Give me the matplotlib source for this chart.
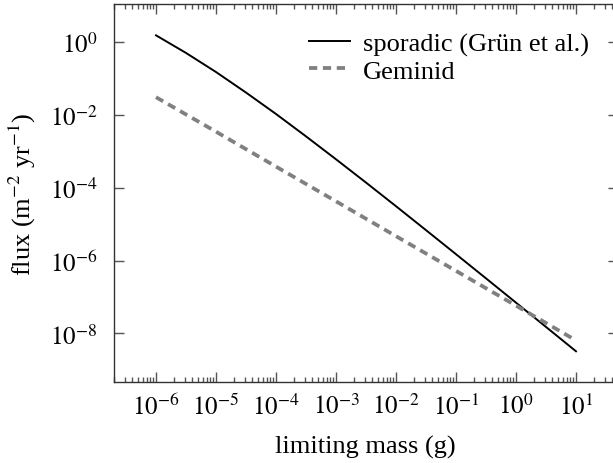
import matplotlib
matplotlib.use("Agg")
import matplotlib.pyplot as plt
import matplotlib.ticker as mticker
import numpy as np

# limiting mass (g)
mass = [1e-6, 10**-5.5, 1e-5, 10**-4.5, 1e-4, 10**-3.5, 1e-3, 10**-2.5,
        1e-2, 10**-1.5, 1e-1, 10**-0.5, 1e0, 10**0.5, 1e1]
# cumulative flux (m^-2 yr^-1)
sporadic = [1.49, 0.49, 0.147, 0.0402, 0.0104, 2.53e-3, 5.96e-4, 1.37e-4,
            3.08e-5, 6.8e-6, 1.49e-6, 3.24e-7, 7.0e-8, 1.51e-8, 3.25e-9]

gem_mass = [1e-6, 1e-5, 1e-4, 1e-3, 1e-2, 1e-1, 1e0, 1e1]
geminid = [3.0e-2, 3.4e-3, 3.75e-4, 4.2e-5, 4.65e-6, 5.2e-7, 5.8e-8, 6.45e-9]

xticks = [1e-6, 1e-5, 1e-4, 1e-3, 1e-2, 1e-1, 1e0, 1e1]
yticks = [1e0, 1e-2, 1e-4, 1e-6, 1e-8]

plt.rcParams['font.family'] = ['Liberation Serif', 'DejaVu Serif']
plt.rcParams['mathtext.fontset'] = 'stix'
fs = 19
tfs = 18

fig = plt.figure(figsize=(6.13, 4.64), dpi=100)
ax = fig.add_axes([114 / 613, 1 - 383 / 464, 504 / 613, 378.3 / 464])

ax.plot(mass, sporadic, color='black', lw=1.4, label='sporadic (Grün et al.)')
ax.plot(gem_mass, geminid, color='#808080', lw=2.7, dashes=(2.2, 1.5),
        label='Geminid')

ax.set_xscale('log')
ax.set_yscale('log')
ax.set_xlim(10**-6.7, 10**1.7)
ax.set_ylim(10**-9.33, 10**1.04)

minor_x = [k * 10.0**e for e in range(-7, 2) for k in range(2, 10)]
ax.xaxis.set_major_locator(mticker.FixedLocator(xticks))
ax.xaxis.set_minor_locator(mticker.FixedLocator(minor_x))
ax.yaxis.set_major_locator(mticker.FixedLocator(yticks))
ax.yaxis.set_minor_locator(mticker.NullLocator())
fmt = mticker.FuncFormatter(lambda v, p: r'$10^{%d}$' % round(np.log10(v)))
ax.xaxis.set_major_formatter(fmt)
ax.yaxis.set_major_formatter(fmt)
ax.xaxis.set_minor_formatter(mticker.NullFormatter())

ax.tick_params(which='both', direction='in', top=True, right=True,
               color='#555555', labelsize=tfs)
ax.tick_params(which='major', length=7, width=1.0)
ax.tick_params(which='minor', length=3.8, width=1.0)
ax.tick_params(axis='x', pad=8)
ax.tick_params(axis='y', pad=12)
for s in ax.spines.values():
    s.set_color('#333333')
    s.set_linewidth(1.0)

ax.set_xlabel('limiting mass (g)', fontsize=fs)
ax.set_ylabel(r'flux (m$^{-2}$ yr$^{-1}$)', fontsize=fs)
ax.xaxis.set_label_coords(0.499, -0.14)
ax.yaxis.set_label_coords(-0.15, 0.5)

ax.legend(loc='upper left', bbox_to_anchor=(0.387, 0.925), frameon=False,
          fontsize=fs, handlelength=1.55, handletextpad=0.5, borderpad=0,
          borderaxespad=0, labelspacing=0.12)

fig.savefig('out.png', dpi=100)
